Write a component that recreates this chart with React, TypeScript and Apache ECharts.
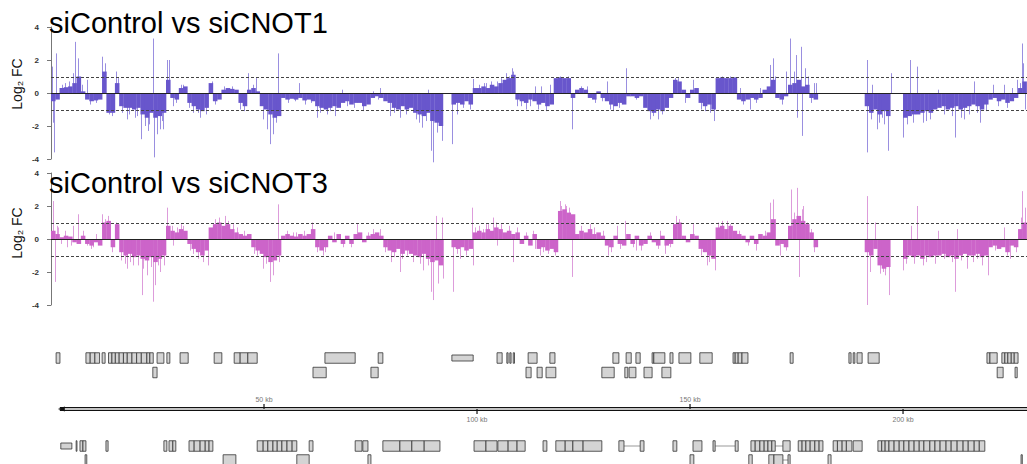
import React, { useEffect, useRef } from "react";
import * as echarts from "echarts";

const KB_MAX = 229.1;
const FONT = "'Liberation Sans', Arial, sans-serif";

// log2 FC per 1 kb bin (null = no data)
const cnot1Base: (number | null)[] = [
  -0.5, -0.4, 0.3, 0.35, 0.4, 0.6, 1.0, 0.1, -0.4, -0.5,
  -0.45, -0.4, 1.3, -1.2, -1.2, 0.6, -0.8, -0.9, -0.9, -1.0,
  -0.9, -1.3, -1.5, -1.2, -1.5, -1.4, -1.2, 0.8, -0.3, -0.4,
  0.3, 0.4, -0.6, -0.8, -1.0, -1.1, -0.9, 0.6, -0.5, -0.4,
  0.2, 0.3, 0.25, 0.2, -0.6, -0.8, 0.2, 0.3, 0.1, -0.8,
  -1.0, -1.3, -1.5, -1.4, -0.3, -0.4, -0.35, -0.4, -0.3, -0.45,
  -0.4, -0.5, -0.8, -0.9, -1.0, -0.9, -0.8, -0.9, -0.6, -0.5,
  -0.7, -0.6, -0.6, -0.8, -0.7, -0.3, -0.2, -0.3, -0.5, -0.6,
  -0.9, -1.0, -0.8, -1.0, -0.9, -1.2, -1.3, -1.4, -1.2, -1.7,
  -1.8, -2.0, null, null, -0.7, -0.6, -0.7, -0.5, -0.7, 0.3,
  0.3, 0.4, 0.3, 0.5, 0.4, 0.6, 0.8, 0.9, 1.1, -0.4,
  -0.5, -0.6, -0.4, -0.5, -0.7, -0.6, -0.8, -0.7, 0.9, 0.95,
  0.9, 0.9, -0.3, 0.2, 0.3, 0.2, -0.3, -0.4, 0.1, -0.3,
  -0.5, -0.7, -0.8, -0.6, -0.7, -0.2, -0.2, -0.3, -0.2, -0.9,
  -1.1, -1.2, -1.0, -1.1, -0.9, -0.3, 0.8, 0.7, 0.2, -0.3,
  0.2, 0.3, -0.6, -0.8, -0.7, -1.0, 0.9, 0.95, 0.9, 0.9,
  0.95, -0.4, -0.5, -0.4, -0.3, -0.4, -0.3, 0.2, 0.4, 0.8,
  -0.3, -0.4, -0.2, 0.5, 0.6, 0.8, 0.4, 0.5, -0.3, -0.4,
  null, null, null, null, null, null, null, null, null, null,
  null, -0.8, -1.2, -1.0, -1.3, -1.1, -1.4, null, null, null,
  -1.5, -1.4, -1.3, -1.3, -1.2, -1.1, -1.2, -1.0, -0.9, -0.8,
  -1.0, -0.9, -0.8, -1.0, -0.9, -0.8, -0.7, -0.8, -1.0, -0.7,
  -0.4, -0.3, -0.5, -0.4, -0.6, -0.5, -0.3, 0.3, 0.7,
];

const cnot1Spikes: [number, number][] = [
  [0.2, 1.6], [0.4, -1.8], [0.7, -3.6], [1.2, 2.4], [5.2, 1.2], [5.7, 3.1], [6.3, 2.1],
  [8.4, 0.8], [11.9, 2.2], [12.7, 1.8], [13.5, -1.3], [15.3, 1.3], [15.8, 0.9], [17.8, -1.6],
  [19.7, -1.5], [21.1, -2.8], [22.1, -2.0], [22.8, -2.3], [23.9, 3.3], [24.1, -3.9],
  [24.8, -2.5], [25.7, -2.2], [26.4, -2.2], [27.3, 2.0], [27.8, 2.0], [28.7, -0.8],
  [31.1, 0.5], [33.4, -1.2], [35.0, -1.5], [36.5, -1.3], [37.7, 0.7], [44.4, -1.0],
  [46.3, 1.2], [48.1, 0.9], [49.8, -1.6], [50.6, -2.2], [51.4, -3.1], [52.2, -2.5],
  [52.8, -1.8], [53.3, 2.4], [58.1, 0.6], [62.4, -1.5], [64.7, -1.3], [66.7, -1.4],
  [68.2, 0.2], [73.3, -1.1],
  [77.2, 0.3], [79.5, -1.4], [81.9, -1.5], [87.2, -2.1], [88.5, 0.2], [89.1, -3.5],
  [89.7, -4.2], [90.5, -2.4], [91.7, -2.9], [94.1, -3.1], [95.2, -1.3],
  [99.1, 0.85], [102.2, 0.6], [104.6, 0.7], [106.9, 1.2], [108.1, 1.5], [108.4, 1.3],
  [109.3, -0.8], [111.6, -1.0], [113.6, 0.4], [115.1, 0.4], [117.1, 0.5], [122.2, -2.2],
  [125.7, 0.4], [130.4, 0.7], [132.0, -1.1], [134.9, 1.5], [140.6, -1.6], [142.5, -1.6],
  [146.4, 0.9], [147.2, 0.9], [148.8, -0.6],
  [150.8, 0.8], [154.7, -1.2], [155.6, -1.7], [161.7, 0.3], [164.1, -1.0], [168.8, 1.7],
  [169.4, 2.1], [170.0, 1.0], [171.5, -0.7], [172.5, 1.3], [173.5, 3.3], [174.3, 1.3],
  [174.9, 2.3], [175.2, -1.5], [176.1, 2.8], [176.4, -2.6], [177.0, 1.5], [177.8, 1.0],
  [179.0, 0.6], [179.6, 0.6],
  [191.5, 2.0], [191.6, -3.6], [192.6, 0.5], [193.8, -2.2], [195.0, -1.5], [196.4, -3.5],
  [197.2, 1.2], [200.0, -2.7], [201.6, 2.0], [203.2, 1.6], [204.8, -1.8], [208.3, 0.2],
  [212.1, -2.7], [214.2, -1.6], [216.7, 0.7], [218.1, -1.8], [221.2, 0.5], [223.6, 0.5],
  [226.7, 0.8], [228.0, 3.0], [228.2, 1.8], [228.6, -1.0],
  [2.5, 0.5], [3.4, 0.6], [4.3, 0.7], [7.3, 0.5], [9.2, -0.7], [10.6, -0.6], [14.3, -1.4],
  [16.6, -1.2], [18.3, -1.3], [20.3, -1.4], [23.0, -1.9], [26.0, -1.7], [29.3, -0.6],
  [30.4, 0.5], [32.5, -0.9], [34.4, -1.2], [38.5, -0.7], [40.6, 0.4], [42.4, 0.4],
  [45.3, -1.1], [47.4, 0.5], [55.6, -0.6], [57.3, -0.5], [59.6, -0.7], [61.0, -0.6],
  [63.2, -1.2], [65.5, -1.1], [69.4, -0.8], [71.2, -0.9], [75.5, 0.1], [76.8, -0.4],
  [80.4, -1.2], [83.3, -1.3], [85.6, -1.6], [86.4, -1.8], [88.0, -1.7], [96.6, -0.9],
  [98.3, -1.0], [100.5, 0.5], [101.6, 0.6], [103.4, 0.7], [105.6, 0.9], [107.5, 1.0],
  [110.4, -0.8], [112.5, -0.8], [114.4, -1.0], [116.3, -1.1], [119.5, 1.0], [121.3, 1.0],
  [124.4, 0.4], [127.6, -0.6], [129.4, -0.5], [131.3, -1.0], [133.4, -0.9], [137.3, -0.4],
  [141.4, -1.4], [143.5, -1.3], [152.6, -1.0], [153.5, -1.1], [157.5, 1.0], [159.4, 1.0],
  [162.5, -0.7], [165.5, -0.6], [166.4, 0.3], [171.6, -0.6], [178.4, -0.6], [192.4, -1.6],
  [194.4, -1.8], [195.6, -1.9], [201.0, -1.9], [202.4, -1.8], [205.5, -1.7], [206.4, -1.6],
  [209.6, -1.3], [211.4, -1.4], [213.5, -1.5], [215.4, -1.3], [217.4, -1.2], [219.4, -1.1],
  [222.4, -0.8], [224.4, -0.9], [225.6, 0.3], [227.4, 0.6],
];

const cnot3Base: (number | null)[] = [
  0.5, 0.3, 0.1, 0.2, 0.15, -0.2, -0.3, 0.2, -0.3, -0.4,
  -0.2, -0.4, 1.0, 1.1, -0.5, 0.9, -0.8, -1.0, -0.9, -1.1,
  -1.0, -1.2, -1.3, -1.1, -1.4, -1.2, -1.0, 0.8, 0.5, 0.4,
  0.6, 0.5, -0.3, -0.6, -0.8, -1.0, -0.7, 0.7, 0.9, 1.0,
  0.8, 0.9, 0.6, 0.4, 0.3, 0.2, 0.3, -0.5, -0.7, -0.9,
  -1.1, -1.4, -1.3, -1.0, 0.2, 0.3, 0.2, 0.15, 0.3, 0.2,
  0.3, 0.6, -0.5, -0.7, -0.5, 0.2, -0.2, 0.3, -0.3, 0.2,
  -0.3, 0.3, 0.4, -0.2, 0.2, 0.3, 0.4, 0.2, -0.5, -0.7,
  -0.8, -0.6, -0.9, -0.7, -0.9, -1.0, -1.1, -0.9, -1.2, -1.4,
  -1.3, -1.6, null, null, -0.5, -0.6, -0.5, -0.7, -0.6, 0.4,
  0.5, 0.4, 0.6, 0.5, 0.7, 0.6, 0.4, 0.5, 0.3, 0.4,
  -0.3, 0.2, -0.4, 0.3, -0.6, -0.5, -0.7, -0.6, -0.8, 1.7,
  1.8, 1.6, 1.5, 0.3, 0.5, 0.4, 0.6, 0.3, 0.4, 0.2,
  -0.4, -0.5, 0.2, -0.3, -0.4, 0.3, -0.3, 0.2, -0.4, -0.3,
  0.2, -0.2, -0.4, 0.2, -0.4, -0.3, 0.9, 1.0, 0.2, -0.2,
  0.3, 0.2, -0.6, -0.8, -1.0, -1.2, 0.7, 0.8, 0.6, 0.8,
  0.5, 0.3, 0.2, -0.2, 0.2, -0.3, 0.3, 0.2, 0.4, 1.2,
  -0.4, -0.3, -0.5, 0.8, 1.2, 1.4, 1.1, 0.9, 0.4, -0.5,
  null, null, null, null, null, null, null, null, null, null,
  null, -0.8, -1.0, -0.6, -1.6, -1.8, -1.7, null, null, null,
  -1.2, -1.0, -1.1, -1.0, -1.2, -1.0, -1.1, -1.0, -1.0, -0.9,
  -1.1, -1.0, -1.2, -1.0, -0.9, -1.0, -1.0, -0.9, -1.1, -1.0,
  -0.5, -0.4, -0.6, -0.5, -0.8, -0.4, -0.5, 0.6, 1.0,
];

const cnot3Spikes: [number, number][] = [
  [0.5, 2.3], [0.9, -2.6], [1.7, 0.7], [3.7, -0.5], [5.2, 0.8], [6.4, 1.5], [8.4, -0.4],
  [9.9, -0.5], [11.9, 1.5], [12.7, 1.2], [15.3, 1.0], [15.8, 0.7], [17.8, -1.8],
  [19.3, -1.6], [21.3, -3.4], [22.5, -2.2], [24.0, -3.8], [24.4, -2.8], [25.6, -2.0],
  [26.5, -1.6], [27.3, 1.9], [28.7, -0.4], [31.1, 0.8], [33.4, -0.9], [36.9, -1.6],
  [40.9, 1.4], [42.8, 0.9], [48.3, -1.0], [49.8, -1.8], [51.3, -2.6], [52.2, -2.2],
  [53.3, 2.1], [56.9, 0.4], [61.2, 1.0], [63.9, -1.0], [71.8, 0.9],
  [77.2, 0.6], [79.9, -1.4], [81.9, -2.0], [85.0, -1.4], [87.4, -1.9], [89.2, -3.2],
  [89.7, -3.7], [90.3, 1.4], [90.9, -2.7], [91.7, 1.3], [92.0, -2.4], [94.3, -3.2],
  [96.0, -1.2], [98.9, 1.9], [99.1, -1.6], [102.2, 0.9], [103.8, 1.3], [104.6, -0.4],
  [108.5, -1.4], [113.2, 0.5], [114.8, -1.0], [119.4, 2.3], [121.0, 2.0], [122.2, -2.3],
  [126.5, 0.9], [130.8, -1.0], [132.8, 0.8], [134.7, 1.1], [137.4, -0.7], [142.9, 0.5],
  [144.1, -0.9], [146.7, 1.4],
  [150.8, 0.9], [153.9, -1.6], [155.9, -1.9], [158.6, 1.1], [165.6, -0.7], [168.8, 2.2],
  [169.4, 2.4], [170.0, 1.2], [171.1, -1.0], [173.6, 3.0], [175.0, 3.1], [175.6, -2.3],
  [176.6, 2.0], [177.4, 1.0], [179.1, -0.8],
  [191.5, 2.6], [191.6, -4.0], [192.3, -2.0], [193.4, 1.0], [195.4, -2.0], [196.6, -3.4],
  [200.0, -1.9], [201.8, 0.8], [203.2, 2.0], [204.8, -1.6], [208.1, 0.5], [212.1, -3.2],
  [212.6, 0.6], [214.9, -1.8], [217.3, -1.2], [220.0, -2.2], [223.6, 0.7], [225.1, -1.2],
  [228.0, 2.9], [228.6, 1.9],
  [1.4, 0.8], [2.4, -0.3], [3.3, 0.5], [4.6, -0.4], [7.4, 0.5], [9.4, -0.6], [10.5, 0.3],
  [13.4, 1.4], [14.4, -0.8], [16.4, -1.3], [17.4, -1.5], [18.6, -1.4], [20.4, -1.6],
  [21.6, -1.8], [23.4, -1.7], [25.1, -1.6], [28.4, 0.8], [29.5, 0.7], [30.5, 0.9],
  [32.6, -0.7], [34.5, -1.2], [35.6, -1.4], [38.4, 1.2], [39.5, 1.3], [41.5, 1.1],
  [43.6, 0.7], [45.4, 0.5], [47.6, -0.9], [50.4, -1.5], [53.6, -1.4], [55.5, 0.5],
  [57.5, 0.4], [59.4, 0.5], [62.5, -0.8], [64.4, -0.8], [66.5, 0.4], [68.6, -0.5],
  [70.4, -0.5], [74.4, 0.4], [75.6, 0.6], [78.5, -0.8], [80.5, -1.1], [82.5, -1.2],
  [83.6, -1.0], [86.5, -1.5], [88.4, -1.6], [95.4, -0.9], [97.5, -1.0], [99.6, 0.7],
  [100.4, 0.8], [101.5, 0.6], [102.6, 0.9], [104.4, 1.0], [105.6, 0.9], [107.5, 0.8],
  [109.5, 0.7], [111.5, 0.4], [113.5, -0.6], [115.5, -0.8], [116.6, -0.9], [118.4, -1.0],
  [119.8, 2.0], [120.6, 2.1], [121.6, 1.9], [124.5, 0.8], [127.5, 0.7], [129.5, 0.5],
  [131.5, -0.8], [133.5, -0.6], [136.5, -0.5], [138.5, -0.7], [140.5, 0.4], [142.5, -0.6],
  [145.4, -0.5], [147.5, 1.2], [152.5, -1.0], [154.5, -1.4], [156.5, 1.0], [157.5, 1.1],
  [159.5, 0.9], [161.5, 0.5], [163.5, -0.4], [167.5, 0.5], [172.5, -0.7], [174.5, 1.6],
  [176.2, 1.8], [178.5, 0.6], [194.5, -2.1], [195.8, -2.2], [200.6, -1.5], [202.5, -1.5],
  [205.5, -1.4], [207.5, -1.5], [209.5, -1.2], [211.5, -1.4], [213.5, -1.3], [216.5, -1.4],
  [218.5, -1.6], [221.5, -0.7], [224.5, -1.0], [226.5, -0.8], [227.6, 1.3],
];

const yTicks = [-4, -2, 0, 2, 4];
const refLines = [0, 1, -1];

// gene track: [start kb, end kb, row, thin]
const geneBoxes: [number, number, number, number][] = [
  [1.2, 2.1, 0, 0], [8.2, 9.2, 0, 0], [9.2, 10.3, 0, 0], [10.3, 11.4, 0, 0], [12.0, 12.7, 0, 0],
  [13.5, 14.3, 0, 0], [14.3, 15.1, 0, 0], [15.1, 16.0, 0, 0], [16.0, 17.0, 0, 0], [17.0, 17.9, 0, 0],
  [17.9, 19.0, 0, 0], [19.0, 20.1, 0, 0], [20.1, 21.2, 0, 0], [21.2, 22.5, 0, 0], [22.5, 23.2, 0, 0],
  [23.2, 24.0, 0, 0], [24.9, 26.5, 0, 0], [27.2, 27.9, 0, 0], [30.3, 32.2, 0, 0], [38.3, 40.1, 0, 0],
  [43.0, 44.4, 0, 0], [44.4, 46.2, 0, 0], [46.2, 48.4, 0, 0], [64.3, 71.4, 0, 0], [76.8, 77.9, 0, 0],
  [94.1, 99.1, 0, 1], [104.7, 105.9, 0, 0], [107.0, 107.3, 0, 0], [107.7, 108.0, 0, 0], [108.5, 108.8, 0, 0],
  [112.0, 114.1, 0, 0], [117.1, 118.3, 0, 0], [131.9, 133.3, 0, 0], [135.0, 136.2, 0, 0], [137.3, 138.3, 0, 0],
  [141.1, 141.5, 0, 0], [141.5, 144.1, 0, 0], [145.3, 146.0, 0, 0], [147.4, 150.2, 0, 0], [152.3, 155.2, 0, 0],
  [160.1, 160.6, 0, 0], [160.6, 161.3, 0, 0], [161.3, 162.2, 0, 0], [162.2, 163.6, 0, 0], [173.5, 174.2, 0, 0],
  [187.3, 187.8, 0, 0], [188.3, 188.7, 0, 0], [189.2, 190.4, 0, 0], [191.8, 194.4, 0, 0],
  [219.7, 220.4, 0, 0], [220.4, 222.1, 0, 0], [223.2, 223.9, 0, 0], [223.9, 224.6, 0, 0],
  [224.6, 225.4, 0, 0], [225.4, 226.1, 0, 0], [226.1, 227.0, 0, 0],
  [23.9, 24.9, 1, 0], [61.5, 64.6, 1, 0], [75.1, 76.8, 1, 0], [111.5, 112.7, 1, 0], [114.1, 115.3, 1, 0],
  [116.2, 118.5, 1, 0], [129.3, 132.2, 1, 0], [134.7, 135.4, 1, 0], [135.7, 137.3, 1, 0], [139.2, 141.1, 1, 0],
  [143.4, 145.5, 1, 0], [222.1, 223.5, 1, 0], [226.3, 226.8, 1, 0],
  [2.3, 4.9, 2, 1], [5.9, 6.1, 2, 0], [6.8, 7.5, 2, 0], [7.5, 8.2, 2, 0], [12.9, 13.4, 2, 0],
  [26.5, 27.2, 2, 0], [27.7, 28.6, 2, 0], [28.6, 29.3, 2, 0], [32.4, 33.6, 2, 0], [33.6, 35.0, 2, 0],
  [35.0, 36.2, 2, 0], [36.2, 37.1, 2, 0], [37.1, 38.0, 2, 0], [48.4, 49.8, 2, 0], [49.8, 50.9, 2, 0],
  [50.9, 52.1, 2, 0], [52.1, 53.1, 2, 0], [53.1, 54.2, 2, 0], [54.2, 55.4, 2, 0], [55.4, 56.6, 2, 0],
  [56.6, 57.7, 2, 0], [60.6, 61.5, 2, 0], [71.4, 73.0, 2, 0], [73.2, 74.4, 2, 0], [77.9, 81.9, 2, 0],
  [81.9, 84.7, 2, 0], [84.7, 87.6, 2, 0], [87.6, 91.3, 2, 0], [99.3, 102.1, 2, 0], [102.1, 104.7, 2, 0],
  [104.9, 107.3, 2, 0], [107.3, 109.4, 2, 0], [109.4, 111.3, 2, 0], [115.5, 116.4, 2, 0], [118.5, 120.7, 2, 0],
  [120.7, 122.5, 2, 0], [122.5, 124.9, 2, 0], [124.9, 129.3, 2, 0], [133.3, 134.5, 2, 0], [138.3, 139.2, 2, 0],
  [146.0, 146.9, 2, 0], [150.7, 152.8, 2, 0], [155.4, 155.9, 2, 0], [160.6, 161.3, 2, 0], [164.3, 165.3, 2, 0],
  [165.3, 166.4, 2, 0], [166.4, 167.4, 2, 0], [167.4, 168.3, 2, 0], [168.3, 169.2, 2, 0], [169.2, 170.0, 2, 0],
  [171.8, 173.5, 2, 0], [175.4, 176.3, 2, 0], [176.3, 177.2, 2, 0], [177.2, 178.2, 2, 0], [178.2, 179.3, 2, 0],
  [179.3, 180.3, 2, 0], [180.3, 181.2, 2, 0], [183.6, 184.6, 2, 0], [184.6, 185.7, 2, 0], [185.7, 186.7, 2, 0],
  [186.7, 188.0, 2, 0], [188.3, 190.4, 2, 0], [194.1, 195.0, 2, 0], [195.0, 195.8, 2, 0], [195.8, 196.7, 2, 0],
  [196.7, 197.9, 2, 0], [197.9, 199.1, 2, 0], [199.1, 200.2, 2, 0], [200.2, 201.4, 2, 0], [201.4, 202.6, 2, 0],
  [202.6, 203.8, 2, 0], [203.8, 204.9, 2, 0], [204.9, 206.3, 2, 0], [206.3, 207.5, 2, 0], [207.5, 208.7, 2, 0],
  [208.7, 210.1, 2, 0], [210.1, 211.3, 2, 0], [211.3, 212.7, 2, 0], [212.7, 214.1, 2, 0], [214.1, 215.3, 2, 0],
  [215.3, 216.7, 2, 0], [216.7, 217.9, 2, 0], [217.9, 219.2, 2, 0],
  [8.0, 8.4, 3, 0], [40.4, 43.4, 3, 0], [57.7, 60.6, 3, 0], [74.4, 75.1, 3, 0], [150.0, 150.9, 3, 0],
  [163.8, 164.6, 3, 0], [168.5, 169.7, 3, 0], [169.7, 171.8, 3, 0], [173.0, 173.5, 3, 0],
  [182.4, 183.1, 3, 0], [227.7, 228.0, 3, 0],
];

const geneLinks: [number, number, number][] = [
  [134.5, 138.3, 2], [155.9, 160.6, 2], [170.0, 171.8, 2], [171.8, 173.0, 3],
];

const geneAxisStart = 1.6;
const geneAxisTicks = [50, 100, 150, 200];

const ROW_CENTER = [18, 32.5, 106, 120];
const AXIS_Y = 69;

function signalSeries(
  base: (number | null)[],
  spikes: [number, number][],
  idx: number,
  body: string,
  spikeColor: string
) {
  const baseData = base
    .map((v, i) => (v == null ? null : [i, v]))
    .filter((d) => d !== null) as number[][];
  return [
    {
      type: "custom",
      xAxisIndex: idx,
      yAxisIndex: idx,
      data: spikes,
      silent: true,
      z: 2,
      renderItem: (_p: any, api: any) => {
        const x = api.value(0);
        const y = api.value(1);
        const a = api.coord([x, 0]);
        const b = api.coord([x, y]);
        const px = Math.round(a[0]) + 0.5;
        return {
          type: "line",
          shape: { x1: px, y1: a[1], x2: px, y2: b[1] },
          style: { stroke: spikeColor, lineWidth: 1 },
        };
      },
    },
    {
      type: "custom",
      xAxisIndex: idx,
      yAxisIndex: idx,
      data: baseData,
      silent: true,
      z: 3,
      renderItem: (_p: any, api: any) => {
        const i = api.value(0);
        const v = api.value(1);
        const a = api.coord([i, 0]);
        const b = api.coord([i + 1, v]);
        return {
          type: "rect",
          shape: {
            x: a[0],
            y: Math.min(a[1], b[1]),
            width: b[0] - a[0] + 0.3,
            height: Math.abs(b[1] - a[1]),
          },
          style: { fill: body },
        };
      },
    },
    {
      type: "custom",
      xAxisIndex: idx,
      yAxisIndex: idx,
      data: refLines.map((v) => [v]),
      silent: true,
      z: 5,
      renderItem: (_p: any, api: any) => {
        const v = api.value(0);
        const a = api.coord([0, v]);
        const b = api.coord([KB_MAX, v]);
        const y = Math.round(a[1]) + 0.5;
        return {
          type: "line",
          shape: { x1: a[0], y1: y, x2: b[0], y2: y },
          style:
            v === 0
              ? { stroke: "#222", lineWidth: 1 }
              : { stroke: "#444", lineWidth: 1, lineDash: [3, 2] },
        };
      },
    },
  ];
}

function yAxisDef(idx: number) {
  return {
    type: "value",
    gridIndex: idx,
    min: -4,
    max: 4,
    interval: 2,
    offset: 9,
    axisLine: { show: true, lineStyle: { color: "#777", width: 1 } },
    axisTick: { show: true, length: 4, lineStyle: { color: "#777" } },
    axisLabel: {
      fontSize: 8,
      fontWeight: "bold",
      color: "#333",
      margin: 3,
      fontFamily: FONT,
      customValues: yTicks,
    },
    splitLine: { show: false },
  };
}

const titleStyle = (text: string) => ({
  text,
  fontSize: 29,
  fill: "#000",
  fontFamily: FONT,
});

const yNameStyle = {
  text: "Log₂ FC",
  fontSize: 14,
  fill: "#111",
  fontFamily: FONT,
  align: "center",
  verticalAlign: "middle",
};

export default function App() {
  const ref = useRef<HTMLDivElement>(null);
  useEffect(() => {
    document.body.style.margin = "0";
    if (!ref.current) return;
    const chart = echarts.init(ref.current, null, { renderer: "svg" });
    const option: any = {
      animation: false,
      backgroundColor: "#fff",
      grid: [
        { left: 51, top: 27, width: 976, height: 132 },
        { left: 51, top: 173, width: 976, height: 132 },
        { left: 51, top: 340, width: 976, height: 124 },
      ],
      xAxis: [0, 1, 2].map((i) => ({
        type: "value",
        gridIndex: i,
        min: 0,
        max: KB_MAX,
        show: false,
      })),
      yAxis: [
        yAxisDef(0),
        yAxisDef(1),
        { type: "value", gridIndex: 2, min: 0, max: 124, inverse: true, show: false },
      ],
      graphic: [
        { type: "text", left: 49, top: 8, style: titleStyle("siControl vs siCNOT1"), z: 10 },
        { type: "text", left: 49, top: 168, style: titleStyle("siControl vs siCNOT3"), z: 10 },
        { type: "text", x: 17, y: 84, rotation: Math.PI / 2, style: yNameStyle },
        { type: "text", x: 17, y: 233, rotation: Math.PI / 2, style: yNameStyle },
      ],
      series: [
        ...signalSeries(cnot1Base, cnot1Spikes, 0, "#6856cc", "#9a8fe0"),
        ...signalSeries(cnot3Base, cnot3Spikes, 1, "#cc64c9", "#dd9cdb"),
        {
          type: "custom",
          xAxisIndex: 2,
          yAxisIndex: 2,
          data: geneLinks,
          silent: true,
          z: 2,
          renderItem: (_p: any, api: any) => {
            const row = api.value(2);
            const a = api.coord([api.value(0), ROW_CENTER[row]]);
            const b = api.coord([api.value(1), ROW_CENTER[row]]);
            return {
              type: "line",
              shape: { x1: a[0], y1: a[1], x2: b[0], y2: b[1] },
              style: { stroke: "#999", lineWidth: 1 },
            };
          },
        },
        {
          type: "custom",
          xAxisIndex: 2,
          yAxisIndex: 2,
          data: geneBoxes,
          silent: true,
          z: 3,
          renderItem: (_p: any, api: any) => {
            const row = api.value(2);
            const thin = api.value(3);
            const a = api.coord([api.value(0), ROW_CENTER[row]]);
            const b = api.coord([api.value(1), ROW_CENTER[row]]);
            const h = thin ? 6 : 10.5;
            return {
              type: "rect",
              shape: { x: a[0], y: a[1] - h / 2, width: Math.max(b[0] - a[0], 0.8), height: h },
              style: { fill: "#d4d4d4", stroke: "#333", lineWidth: 0.8 },
            };
          },
        },
        {
          type: "custom",
          xAxisIndex: 2,
          yAxisIndex: 2,
          data: [[geneAxisStart, KB_MAX]],
          silent: true,
          z: 3,
          renderItem: (_p: any, api: any) => {
            const a = api.coord([api.value(0), AXIS_Y]);
            const b = api.coord([api.value(1), AXIS_Y]);
            return {
              type: "group",
              children: [
                {
                  type: "line",
                  shape: { x1: a[0] + 2, y1: a[1] - 1.4, x2: b[0], y2: b[1] - 1.4 },
                  style: { stroke: "#111", lineWidth: 1.3 },
                },
                {
                  type: "line",
                  shape: { x1: a[0] + 2, y1: a[1] + 1.4, x2: b[0], y2: b[1] + 1.4 },
                  style: { stroke: "#111", lineWidth: 1.3 },
                },
                {
                  type: "polygon",
                  shape: {
                    points: [
                      [a[0], a[1]],
                      [a[0] + 7, a[1] - 2.5],
                      [a[0] + 7, a[1] + 2.5],
                    ],
                  },
                  style: { fill: "#111" },
                },
              ],
            };
          },
        },
        {
          type: "custom",
          xAxisIndex: 2,
          yAxisIndex: 2,
          data: geneAxisTicks.map((t, i) => [t, i]),
          silent: true,
          z: 4,
          renderItem: (_p: any, api: any) => {
            const t = api.value(0);
            const up = api.value(1) % 2 === 0;
            const a = api.coord([t, AXIS_Y]);
            const dir = up ? -1 : 1;
            return {
              type: "group",
              children: [
                {
                  type: "line",
                  shape: { x1: a[0], y1: a[1], x2: a[0], y2: a[1] + dir * 5 },
                  style: { stroke: "#111", lineWidth: 1.2 },
                },
                {
                  type: "text",
                  x: a[0],
                  y: a[1] + dir * 10,
                  style: {
                    text: `${t} kb`,
                    fontSize: 7,
                    fill: "#777",
                    fontFamily: FONT,
                    align: "center",
                    verticalAlign: "middle",
                  },
                },
              ],
            };
          },
        },
      ],
    };
    chart.setOption(option);
    return () => chart.dispose();
  }, []);
  return <div ref={ref} style={{ width: 1027, height: 464 }} />;
}
